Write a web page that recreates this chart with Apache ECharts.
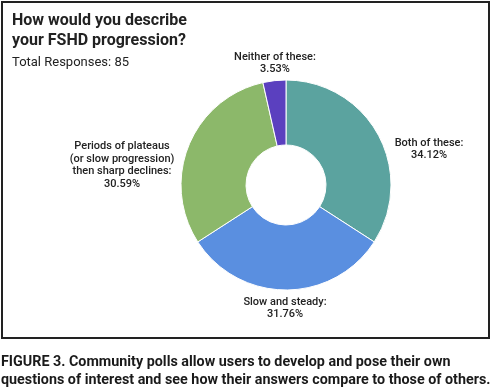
<!DOCTYPE html>
<html>
<head>
<meta charset="utf-8">
<script src="https://cdn.jsdelivr.net/npm/echarts@6/dist/echarts.min.js"></script>
<style>
html,body{margin:0;padding:0;background:#fff;}
#chart{width:493px;height:387px;}
</style>
</head>
<body>
<div id="chart"></div>
<script>
var categories = ['Both of these', 'Slow and steady', 'Periods of plateaus\n(or slow progression)\nthen sharp declines', 'Neither of these'];
var counts = [29, 27, 26, 3];
var colors = ['#5ba39f', '#5a8fe0', '#8cb86a', '#5b40bf'];
var titleText = 'How would you describe\nyour FSHD progression?';
var subText = 'Total Responses: 85';
var captionText = 'FIGURE 3. Community polls allow users to develop and pose their own\nquestions of interest and see how their answers compare to those of others.';

var labelPos = [[429, 149], [285, 308], [122, 165], [275, 63]];

var chart = echarts.init(document.getElementById('chart'));
chart.setOption({
  animation: false,
  backgroundColor: '#fff',
  title: [
    {text: titleText, left: 7, top: 6, textStyle: {fontFamily: 'Roboto', fontSize: 16, fontWeight: 'bold', color: '#222', lineHeight: 20}},
    {text: subText, left: 7, top: 51, textStyle: {fontFamily: 'Roboto', fontSize: 13, fontWeight: 'normal', color: '#222'}}
  ],
  graphic: [
    {type: 'rect', shape: {x: 2, y: 2, width: 487, height: 336}, style: {fill: 'none', stroke: '#222', lineWidth: 2}, z: 0},
    {type: 'text', x: 1, y: 353, scaleX: 0.955, style: {text: captionText, font: 'bold 15px Roboto, sans-serif', fill: '#1a1a1a', lineHeight: 18}}
  ],
  series: [{
    type: 'pie',
    center: [286, 185],
    radius: [40, 105],
    startAngle: 90,
    clockwise: true,
    itemStyle: {borderColor: '#fff', borderWidth: 1},
    label: {
      show: true,
      position: 'outside',
      formatter: '{b}:\n{d}%',
      fontFamily: 'Roboto',
      fontSize: 11,
      fontWeight: 500,
      color: '#222',
      lineHeight: 12.5,
      align: 'center',
      overflow: 'none',
      width: 200
    },
    labelLine: {show: false},
    labelLayout: function (p) {
      var pos = labelPos[p.dataIndex];
      return {x: pos[0], y: pos[1], align: 'center', verticalAlign: 'middle'};
    },
    emphasis: {disabled: true},
    data: categories.map(function (c, i) {
      return {name: c, value: counts[i], itemStyle: {color: colors[i]}};
    })
  }]
});
</script>
</body>
</html>
